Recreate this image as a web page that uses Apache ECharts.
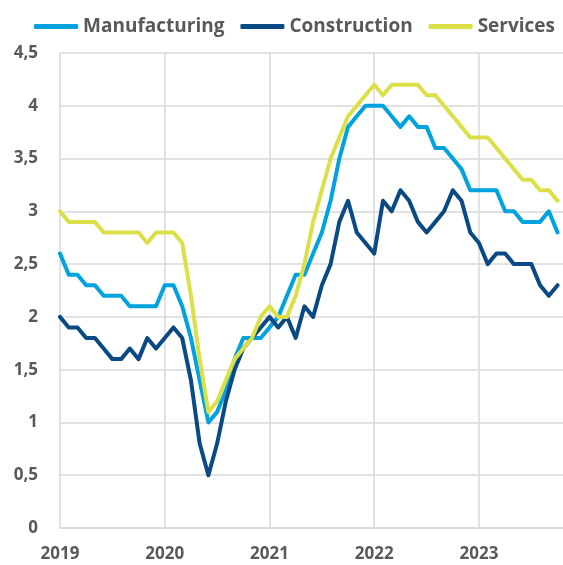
<!DOCTYPE html>
<html>
<head>
<meta charset="utf-8">
<script src="https://cdn.jsdelivr.net/npm/echarts@6/dist/echarts.min.js"></script>
<style>
  html, body { margin: 0; padding: 0; background: #fff; }
  #chart { width: 563px; height: 565px; }
</style>
</head>
<body>
<div id="chart"></div>
<script>
// monthly, Jan 2019 .. Oct 2023
const years = ['2019', '2020', '2021', '2022', '2023'];
const months = [];
years.forEach(y => {
  for (let m = 1; m <= 12; m++) months.push(y + '-' + String(m).padStart(2, '0'));
});

const manufacturing = [
  2.6, 2.4, 2.4, 2.3, 2.3, 2.2, 2.2, 2.2, 2.1, 2.1, 2.1, 2.1,
  2.3, 2.3, 2.1, 1.8, 1.4, 1.0, 1.1, 1.3, 1.6, 1.8, 1.8, 1.8,
  1.9, 2.0, 2.2, 2.4, 2.4, 2.6, 2.8, 3.1, 3.5, 3.8, 3.9, 4.0,
  4.0, 4.0, 3.9, 3.8, 3.9, 3.8, 3.8, 3.6, 3.6, 3.5, 3.4, 3.2,
  3.2, 3.2, 3.2, 3.0, 3.0, 2.9, 2.9, 2.9, 3.0, 2.8
];
const construction = [
  2.0, 1.9, 1.9, 1.8, 1.8, 1.7, 1.6, 1.6, 1.7, 1.6, 1.8, 1.7,
  1.8, 1.9, 1.8, 1.4, 0.8, 0.5, 0.8, 1.2, 1.5, 1.7, 1.8, 1.9,
  2.0, 1.9, 2.0, 1.8, 2.1, 2.0, 2.3, 2.5, 2.9, 3.1, 2.8, 2.7,
  2.6, 3.1, 3.0, 3.2, 3.1, 2.9, 2.8, 2.9, 3.0, 3.2, 3.1, 2.8,
  2.7, 2.5, 2.6, 2.6, 2.5, 2.5, 2.5, 2.3, 2.2, 2.3
];
const services = [
  3.0, 2.9, 2.9, 2.9, 2.9, 2.8, 2.8, 2.8, 2.8, 2.8, 2.7, 2.8,
  2.8, 2.8, 2.7, 2.2, 1.6, 1.1, 1.2, 1.4, 1.6, 1.7, 1.8, 2.0,
  2.1, 2.0, 2.0, 2.2, 2.5, 2.9, 3.2, 3.5, 3.7, 3.9, 4.0, 4.1,
  4.2, 4.1, 4.2, 4.2, 4.2, 4.2, 4.1, 4.1, 4.0, 3.9, 3.8, 3.7,
  3.7, 3.7, 3.6, 3.5, 3.4, 3.3, 3.3, 3.2, 3.2, 3.1
];

const colors = { manufacturing: '#00A3E0', construction: '#0A4A84', services: '#DCE048' };
const textColor = '#595959';
const gridColor = '#D9D9D9';

const lineSeries = (name, data, color) => ({
  name,
  type: 'line',
  data,
  symbol: 'none',
  itemStyle: { color },
  lineStyle: { color, width: 4, cap: 'round', join: 'round' }
});

const chart = echarts.init(document.getElementById('chart'), null, { renderer: 'canvas' });
chart.setOption({
  animation: false,
  textStyle: { fontFamily: 'Open Sans' },
  legend: {
    right: 3,
    top: 12,
    itemWidth: 44,
    itemHeight: 5,
    itemGap: 16,
    icon: 'roundRect',
    textStyle: { color: textColor, fontSize: 19, fontWeight: 'bold', fontFamily: 'Open Sans' }
  },
  // plot runs a little past the right edge so the last month lands where the reference has it
  grid: { left: 60, right: -12, top: 53, bottom: 37, containLabel: false, outerBoundsMode: 'none' },
  xAxis: {
    type: 'category',
    data: months,
    boundaryGap: false,
    axisLine: { lineStyle: { color: gridColor, width: 1.5 } },
    axisTick: { show: false },
    axisLabel: {
      interval: 11,
      margin: 18,
      color: textColor,
      fontSize: 17,
      fontWeight: 'bold',
      formatter: v => v.slice(0, 4)
    },
    splitLine: { show: true, interval: 11, lineStyle: { color: gridColor, width: 1.5 } }
  },
  yAxis: {
    type: 'value',
    min: 0,
    max: 4.5,
    interval: 0.5,
    axisLine: { show: false },
    axisTick: { show: false },
    axisLabel: {
      margin: 22,
      color: textColor,
      fontSize: 17,
      fontWeight: 'bold',
      formatter: v => String(v).replace('.', ',')
    },
    splitLine: { lineStyle: { color: gridColor, width: 1.5 } }
  },
  series: [
    lineSeries('Manufacturing', manufacturing, colors.manufacturing),
    lineSeries('Construction', construction, colors.construction),
    lineSeries('Services', services, colors.services)
  ]
});
</script>
</body>
</html>
